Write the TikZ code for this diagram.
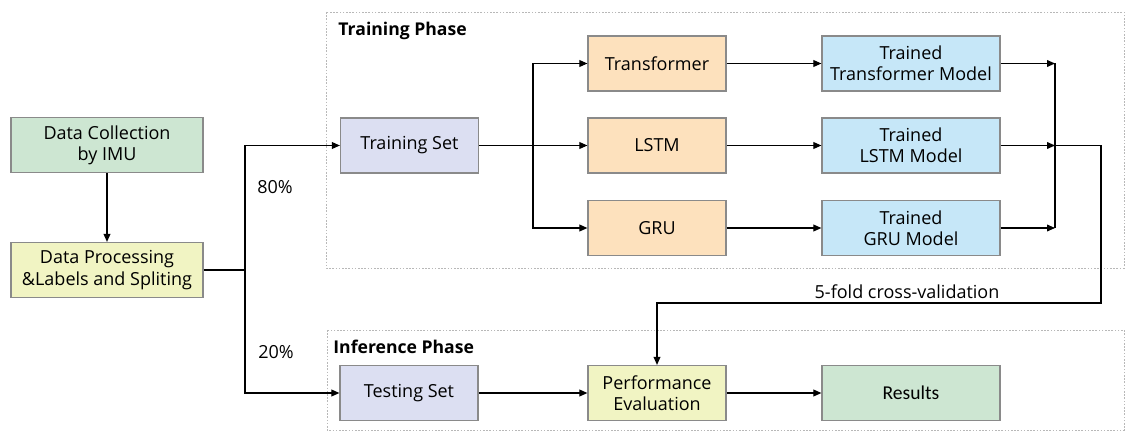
\documentclass[tikz,border=0pt]{standalone}
\usepackage{fontspec}
\setmainfont{Open Sans}
\newfontfamily\calfont{Carlito}
\usetikzlibrary{arrows.meta}
\definecolor{cgreen}{HTML}{CDE6D2}
\definecolor{cyellow}{HTML}{F1F4C3}
\definecolor{clav}{HTML}{DCDFF2}
\definecolor{corange}{HTML}{FDE1BD}
\definecolor{cblue}{HTML}{C6E7F8}
\definecolor{cborder}{HTML}{8A8A8A}
\definecolor{cframe}{HTML}{B8B8B8}
\begin{document}
\begin{tikzpicture}[x=0.5pt,y=-0.5pt,
  box/.style={draw=cborder, line width=0.6pt, align=center, inner sep=0pt,
    minimum height=27.5pt, font=\fontsize{9}{10.6}\selectfont},
  wbox/.style={box, minimum width=69pt},
  lbox/.style={box, minimum width=89pt},
  arr/.style={-{Triangle[length=4pt,width=3.4pt]}, line width=0.55pt},
  ln/.style={line width=0.55pt},
  frame/.style={draw=cframe, line width=0.4pt, dash pattern=on 0.8pt off 0.8pt},
  lbl/.style={font=\fontsize{9}{10.6}\selectfont, inner sep=0pt},
  phase/.style={font=\bfseries\fontsize{8.8}{10.4}\selectfont, inner sep=0pt, anchor=west}
]
\useasboundingbox (0,0) rectangle (1134,444);
% frames
\draw[frame] (326,12) rectangle (1124,268);
\draw[frame] (327,330) rectangle (1124,430);
\node[phase] (tp) at (338,31) {Training Phase};
\node[phase] (ip) at (333,347) {Inference Phase};
% nodes
\node[box, fill=cgreen, minimum width=96pt] (dc) at (107,145) {Data Collection\\by IMU};
\node[box, fill=cyellow, minimum width=96pt] (dp) at (107,270) {Data Processing\\\&Labels and Spliting};
\node[wbox, fill=clav] (ts) at (409.5,145.5) {Training Set};
\node[wbox, fill=corange] (tf) at (657,63.5) {Transformer};
\node[wbox, fill=corange] (lstm) at (657,145.5) {LSTM};
\node[wbox, fill=corange] (gru) at (657,228) {GRU};
\node[lbox, fill=cblue] (ttm) at (911,63.5) {Trained\\Transformer Model};
\node[lbox, fill=cblue] (tlm) at (911,145.5) {Trained\\LSTM Model};
\node[lbox, fill=cblue] (tgm) at (911,228) {Trained\\GRU Model};
\node[wbox, fill=clav] (test) at (409,393) {Testing Set};
\node[wbox, fill=cyellow] (pe) at (657,393) {Performance\\Evaluation};
\node[lbox, fill=cgreen, font=\calfont\fontsize{9.8}{11}\selectfont] (res) at (911,393) {Results};
% labels
\node[lbl, anchor=west] (p80) at (257,187) {80\%};
\node[lbl, anchor=west] (p20) at (258,352) {20\%};
\node[lbl] (cvl) at (907,292) {5-fold cross-validation};
% coordinates
\coordinate (sx) at (245,270);
\coordinate (bx) at (533,145.5);
\coordinate (mx) at (1055,145.5);
\coordinate (cv) at (1101,303);
% connectors
\draw[arr] (dc) -- (dp);
\draw[ln] (dp.east) -- (sx);
\draw[arr] (sx) |- (ts.west);
\draw[arr] (sx) |- (test.west);
\draw[arr] (ts.east) -- (lstm.west);
\draw[arr] (bx) |- (tf.west);
\draw[arr] (bx) |- (gru.west);
\draw[arr] (tf) -- (ttm);
\draw[arr] (lstm) -- (tlm);
\draw[arr] (gru) -- (tgm);
\draw[arr] (ttm.east) -- (ttm.east -| mx);
\draw[arr] (tlm.east) -- (mx);
\draw[arr] (tgm.east) -- (tgm.east -| mx);
\draw[ln] (ttm.east -| mx) -- (tgm.east -| mx);
\draw[arr] (mx) -| (cv) -| (pe.north);
\draw[arr] (test) -- (pe);
\draw[arr] (pe) -- (res);
\end{tikzpicture}
\end{document}
